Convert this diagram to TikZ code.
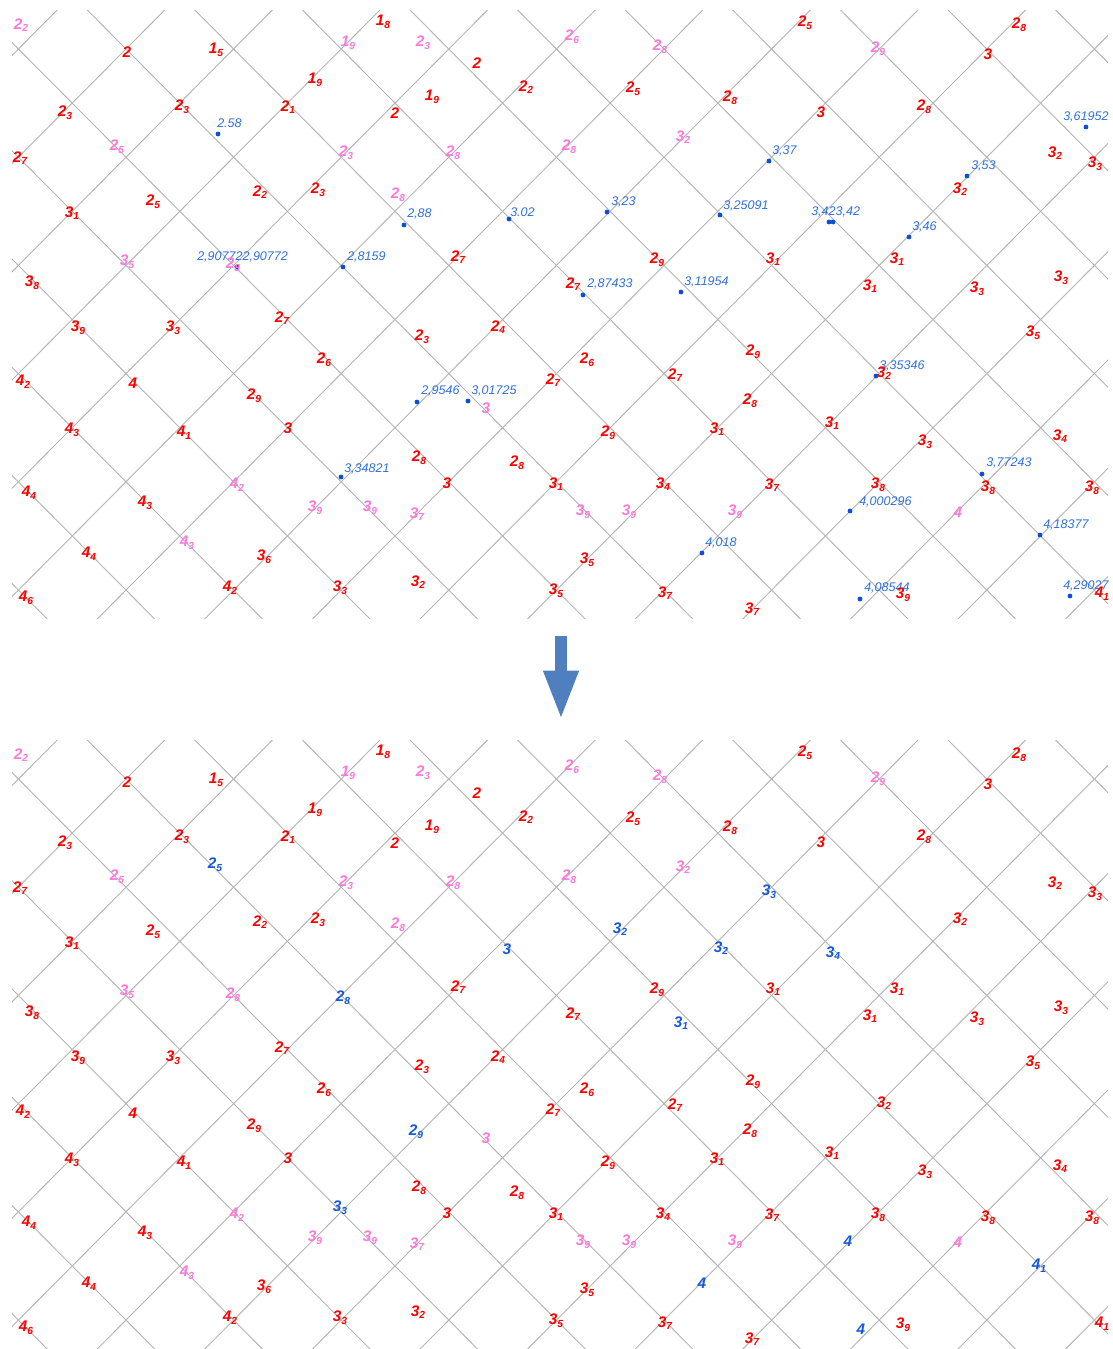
\documentclass[tikz,border=0pt]{standalone}
\usepackage{fontspec}
\setmainfont{Liberation Sans}
\usetikzlibrary{arrows.meta}
\definecolor{numred}{HTML}{FF0000}
\definecolor{numpink}{HTML}{FF78DC}
\definecolor{numblue}{HTML}{1459DC}
\definecolor{valblue}{HTML}{2E6FE0}
\definecolor{dotblue}{HTML}{0A4FD8}
\definecolor{gridgray}{HTML}{B4B4B4}
\definecolor{arrowblue}{HTML}{4F7FBF}
\newcommand\lsub[1]{\raisebox{-2pt}{\fontsize{7.7}{8}\selectfont#1}}
% Labels shared by both panels: x/y/text, in pixels.
\newcommand\redlist{127/52/2, 216/50/1\lsub{5}, 383/22/1\lsub{8}, 477/63/2, 805/23/2\lsub{5},
  1019/25/2\lsub{8}, 988/54/3, 65/113/2\lsub{3}, 182/107/2\lsub{3}, 315/80/1\lsub{9},
  288/107/2\lsub{1}, 395/113/2, 432/97/1\lsub{9}, 526/87/2\lsub{2}, 633/89/2\lsub{5},
  730/98/2\lsub{8}, 821/112/3, 924/107/2\lsub{8}, 20/158/2\lsub{7}, 1055/153/3\lsub{2},
  1095/164/3\lsub{3}, 960/189/3\lsub{2}, 260/192/2\lsub{2}, 318/190/2\lsub{3}, 153/202/2\lsub{5},
  72/213/3\lsub{1}, 458/257/2\lsub{7}, 573/284/2\lsub{7}, 657/260/2\lsub{9}, 773/259/3\lsub{1},
  897/259/3\lsub{1}, 870/286/3\lsub{1}, 977/289/3\lsub{3}, 1061/278/3\lsub{3}, 32/283/3\lsub{8},
  78/328/3\lsub{9}, 173/328/3\lsub{3}, 282/318/2\lsub{7}, 324/360/2\lsub{6}, 422/337/2\lsub{3},
  498/327/2\lsub{4}, 587/360/2\lsub{6}, 753/352/2\lsub{9}, 1033/333/3\lsub{5}, 884/373/3\lsub{2},
  23/382/4\lsub{2}, 133/383/4, 254/396/2\lsub{9}, 553/380/2\lsub{7}, 675/375/2\lsub{7},
  750/401/2\lsub{8}, 72/430/4\lsub{3}, 184/433/4\lsub{1}, 288/428/3, 717/429/3\lsub{1},
  832/423/3\lsub{1}, 925/442/3\lsub{3}, 1060/436/3\lsub{4}, 419/458/2\lsub{8}, 517/463/2\lsub{8},
  608/433/2\lsub{9}, 29/493/4\lsub{4}, 447/483/3, 556/484/3\lsub{1}, 663/484/3\lsub{4},
  772/485/3\lsub{7}, 878/485/3\lsub{8}, 988/488/3\lsub{8}, 1092/488/3\lsub{8}, 145/503/4\lsub{3},
  89/554/4\lsub{4}, 264/557/3\lsub{6}, 587/560/3\lsub{5}, 26/598/4\lsub{6}, 230/588/4\lsub{2},
  340/588/3\lsub{3}, 418/582/3\lsub{2}, 556/591/3\lsub{5}, 665/593/3\lsub{7}, 752/609/3\lsub{7},
  903/595/3\lsub{9}, 1102/594/4\lsub{1}}
\newcommand\pinklist{21/25/2\lsub{2}, 348/43/1\lsub{9}, 423/43/2\lsub{3}, 572/37/2\lsub{6},
  660/47/2\lsub{8}, 878/49/2\lsub{9}, 117/147/2\lsub{5}, 346/153/2\lsub{3}, 453/153/2\lsub{8},
  569/147/2\lsub{8}, 683/137/3\lsub{2}, 398/195/2\lsub{8}, 127/262/3\lsub{5}, 233/265/2\lsub{8},
  486/408/3, 237/485/4\lsub{2}, 315/508/3\lsub{9}, 370/508/3\lsub{9}, 417/514/3\lsub{7},
  583/512/3\lsub{9}, 629/512/3\lsub{9}, 735/512/3\lsub{9}, 958/512/4, 187/543/4\lsub{3}}
% The diagonal lattice of one panel.
\newcommand\latticegrid{%
  \begin{scope}
    \clip (12,10) rectangle (1108,618);
    \begin{scope}[shift={(126,49)}, x=40.35pt, y=-40.58pt]
      \foreach \m in {-20,-18,...,12} \draw[gridline] (-20,\m-20) -- (30,\m+30);
      \foreach \s in {-2,0,...,28} \draw[gridline] (\s-25,25) -- (\s+25,-25);
    \end{scope}
  \end{scope}}
\tikzset{
  gridline/.style={draw=gridgray, line width=0.7pt},
  lbl/.style={inner sep=0pt, font=\fontsize{11.5}{12}\selectfont\bfseries\itshape},
  redlbl/.style={lbl, text=numred},
  pinklbl/.style={lbl, text=numpink},
  bluelbl/.style={lbl, text=numblue},
  vallbl/.style={inner sep=0pt, anchor=west, font=\fontsize{9.4}{10}\selectfont\itshape, text=valblue},
  valdot/.style={circle, fill=dotblue, inner sep=0pt, minimum size=3.6pt}
}
\begin{document}
\begin{tikzpicture}[x=0.75pt, y=-0.75pt]
  \useasboundingbox (0,0) rectangle (1113,1349);
  % Top panel: measured values.
  \latticegrid
  \foreach \dx/\dy/\tx/\ty/\val [count=\i] in {218/134/217/123/2.58, 404/225/407/214/{2,88},
      509/219/510/212/3.02, 607/212/611/202/{3,23}, 720/215/723/206/{3,25091},
      769/161/772/151/{3,37}, 829/222/811/212/{3,423,42}, 909/237/912/227/{3,46},
      967/176/971/166/{3,53}, 1086/127/1063/117/{3,61952}, 237/267/197/257/{2,907722,90772},
      343/267/347/257/{2,8159}, 583/295/587/284/{2,87433}, 681/292/684/282/{3,11954},
      417/402/421/391/{2,9546}, 468/401/471/391/{3,01725}, 876/376/879/366/{3,35346},
      341/477/344/469/{3,34821}, 982/474/986/463/{3,77243}, 850/511/859/502/{4,000296},
      1040/535/1043/525/{4,18377}, 702/553/705/543/{4,018}, 860/599/864/588/{4,08544},
      1070/596/1063/586/{4,29027}} {
    \node[valdot] (d\i) at (\dx,\dy) {};
    \node[vallbl] (v\i) at (\tx,\ty) {\val};
  }
  \node[valdot] (d7b) at (833,222) {};
  \foreach \x/\y/\txt [count=\i] in \redlist \node[redlbl] (r\i) at (\x,\y) {\txt};
  \foreach \x/\y/\txt [count=\i] in \pinklist \node[pinklbl] (p\i) at (\x,\y) {\txt};
  % The step between the panels.
  \coordinate (arrowtop) at (561,636);
  \coordinate (arrowtip) at (561,720);
  \draw[arrowblue, line width=9pt, -{Triangle[length=37pt, width=24pt]}] (arrowtop) -- (arrowtip);
  % Bottom panel: rounded values.
  \begin{scope}[shift={(0,730)}]
    \latticegrid
    \foreach \x/\y/\txt [count=\i] in \redlist \node[redlbl] (rb\i) at (\x,\y) {\txt};
    \foreach \x/\y/\txt [count=\i] in \pinklist \node[pinklbl] (pb\i) at (\x,\y) {\txt};
    \foreach \x/\y/\txt [count=\i] in {215/135/2\lsub{5}, 343/268/2\lsub{8}, 507/219/3,
        620/199/3\lsub{2}, 721/218/3\lsub{2}, 681/293/3\lsub{1}, 769/162/3\lsub{3},
        833/223/3\lsub{4}, 416/402/2\lsub{9}, 340/478/3\lsub{3}, 702/553/4, 848/511/4,
        1039/536/4\lsub{1}, 861/599/4}
      \node[bluelbl] (b\i) at (\x,\y) {\txt};
  \end{scope}
\end{tikzpicture}
\end{document}
